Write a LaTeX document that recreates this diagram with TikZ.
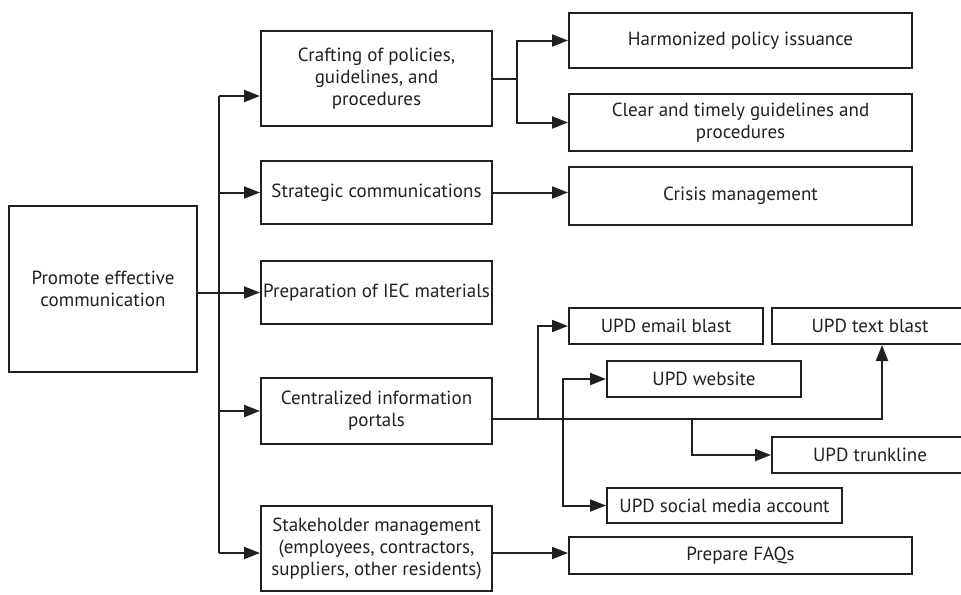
\documentclass[tikz,border=0pt]{standalone}
\usepackage{fontspec}
\setsansfont{PT Sans}
\renewcommand{\familydefault}{\sfdefault}
\usetikzlibrary{arrows.meta}
\definecolor{ink}{HTML}{231F20}
\tikzset{>={Triangle[length=8pt,width=6pt]},
  box/.style={draw=ink, line width=1pt, text=ink, align=center, inner sep=1pt,
    font=\fontsize{9.5}{11}\selectfont},
  link/.style={draw=ink, line width=1pt, ->}}

\begin{document}
\begin{tikzpicture}[x=0.5pt,y=-0.5pt]
    \clip (0,0) rectangle (961,594);
    % root and first level
    \node[box, minimum width=94pt, minimum height=83pt] (root) at (103,289) {Promote effective\\communication};
    \node[box, minimum width=115.5pt, minimum height=47.5pt] (craft) at (376.5,78.5) {Crafting of policies,\\guidelines, and\\procedures};
    \node[box, minimum width=115.5pt, minimum height=31.5pt] (strat) at (376.5,192.5) {Strategic communications};
    \node[box, minimum width=115.5pt, minimum height=31.5pt] (prep) at (376.5,292.5) {Preparation of IEC materials};
    \node[box, minimum width=115.5pt, minimum height=33pt] (cent) at (376.5,411) {Centralized information\\portals};
    \node[box, minimum width=115.5pt, minimum height=42.5pt] (stake) at (376.5,548.5) {Stakeholder management\\(employees, contractors,\\suppliers, other residents)};
    % second level
    \node[box, minimum width=171.5pt, minimum height=27.5pt] (harm) at (740.5,40.5) {Harmonized policy issuance};
    \node[box, minimum width=171.5pt, minimum height=28.5pt] (clear) at (740.5,122.5) {Clear and timely guidelines and\\procedures};
    \node[box, minimum width=171.5pt, minimum height=29pt] (crisis) at (740.5,196) {Crisis management};
    \node[box, minimum width=97pt, minimum height=18pt] (email) at (666,326) {UPD email blast};
    \node[box, minimum width=98pt, minimum height=18pt] (text) at (870,326) {UPD text blast};
    \node[box, minimum width=97pt, minimum height=18pt] (web) at (704,379) {UPD website};
    \node[box, minimum width=98pt, minimum height=18pt] (trunk) at (870,455) {UPD trunkline};
    \node[box, minimum width=117.5pt, minimum height=17.5pt] (social) at (724.5,505.5) {UPD social media account};
    \node[box, minimum width=171.5pt, minimum height=18.5pt] (faq) at (740.5,555.5) {Prepare FAQs};
    % bus from the root
    \coordinate (b1) at (219,96);
    \coordinate (b5) at (219,553);
    \draw[link,-] (b1) -- (b5);
    \draw[link] (b1) -- (b1 -| craft.west);
    \draw[link] (b1 |- strat.west) -- (strat.west);
    \draw[link] (root.east |- prep.west) -- (prep.west);
    \draw[link] (b1 |- cent.west) -- (cent.west);
    \draw[link] (b5) -- (b5 -| stake.west);
    % right side
    \draw[link] (craft.east) -- ++(24,0) |- (harm.west);
    \draw[link] (craft.east) -- ++(24,0) |- (clear.west);
    \draw[link] (strat.east) -- (strat.east -| crisis.west);
    \draw[link] (b5 -| stake.east) -- (b5 -| faq.west);
    % portals
    \coordinate (c0) at (493,419);
    \coordinate (c1) at (538,419);
    \coordinate (c2) at (563,419);
    \coordinate (c3) at (692,419);
    \draw[link] (c0) -| ([xshift=6pt]text.south);
    \draw[link] (c1) |- (email.west);
    \draw[link] (c2) |- (web.west);
    \draw[link] (c2) |- (social.west);
    \draw[link] (c3) |- (trunk.west);
\end{tikzpicture}
\end{document}
